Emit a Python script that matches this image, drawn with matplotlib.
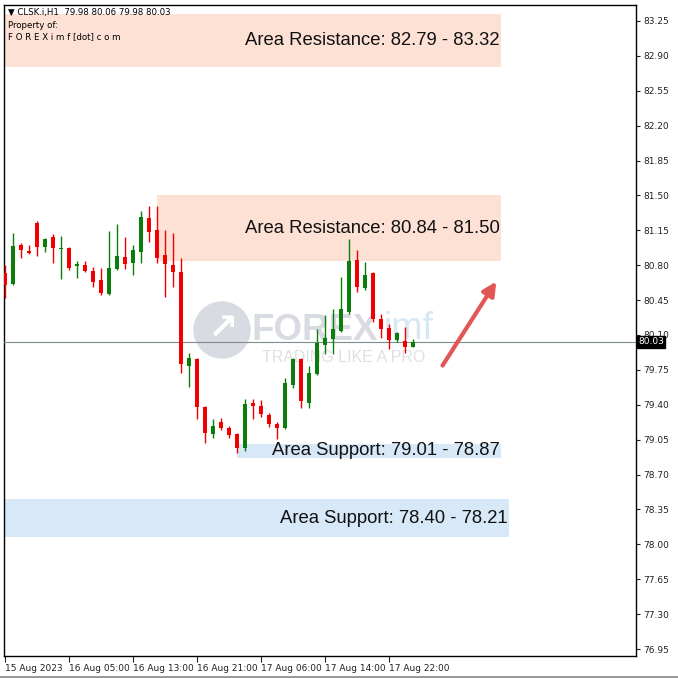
import matplotlib.pyplot as plt
import matplotlib.patches as mpatches
import numpy as np

# hourly candles, CLSK.i H1
opens = [80.72, 80.61, 81.00, 80.94, 81.22, 80.98, 81.08, 80.96, 80.97, 80.79,
         80.80, 80.74, 80.65, 80.51, 80.76, 80.88, 80.82, 80.93, 81.27, 81.15,
         80.90, 80.80, 80.73, 79.79, 79.86, 79.38, 79.11, 79.23, 79.17, 79.11,
         78.97, 79.42, 79.39, 79.30, 79.21, 79.17, 79.60, 79.86, 79.42, 79.71,
         80.00, 80.06, 80.14, 80.33, 80.85, 80.57, 80.72, 80.26, 80.17, 80.05,
         80.04, 79.98]
highs = [80.80, 81.12, 81.02, 81.00, 81.24, 81.07, 81.11, 81.09, 80.98, 80.84,
         80.84, 80.78, 80.77, 81.14, 81.21, 81.08, 81.00, 81.34, 81.39, 81.39,
         81.15, 81.12, 80.87, 79.92, 79.87, 79.39, 79.26, 79.27, 79.19, 79.12,
         79.46, 79.46, 79.45, 79.32, 79.23, 79.67, 79.87, 79.87, 79.79, 80.16,
         80.30, 80.36, 80.68, 81.06, 80.95, 80.83, 80.73, 80.31, 80.21, 80.13,
         80.18, 80.06]
lows = [80.47, 80.60, 80.87, 80.91, 80.89, 80.93, 80.82, 80.66, 80.75, 80.67,
        80.73, 80.58, 80.50, 80.50, 80.75, 80.76, 80.70, 80.82, 81.03, 80.82,
        80.48, 80.58, 79.72, 79.58, 79.26, 79.02, 79.07, 79.15, 79.07, 78.92,
        78.94, 79.26, 79.28, 79.18, 79.06, 79.16, 79.57, 79.37, 79.37, 79.70,
        79.91, 79.91, 80.13, 80.31, 80.53, 80.55, 80.23, 80.07, 79.96, 80.03,
        79.92, 79.98]
closes = [80.60, 80.99, 80.95, 80.92, 80.98, 81.06, 80.97, 80.97, 80.77, 80.81,
          80.74, 80.63, 80.52, 80.77, 80.89, 80.81, 80.95, 81.28, 81.13, 80.87,
          80.81, 80.73, 79.81, 79.87, 79.38, 79.12, 79.19, 79.17, 79.10, 78.97,
          79.41, 79.39, 79.31, 79.21, 79.17, 79.62, 79.86, 79.44, 79.72, 80.02,
          80.07, 80.16, 80.36, 80.84, 80.58, 80.70, 80.26, 80.16, 80.05, 80.12,
          79.98, 80.03]

time_labels = ["15 Aug 2023", "16 Aug 05:00", "16 Aug 13:00", "16 Aug 21:00",
               "17 Aug 06:00", "17 Aug 14:00", "17 Aug 22:00"]
time_label_pos = [0, 8, 16, 24, 32, 40, 48]

# zones
zone_lo = [82.79, 80.84, 78.87, 78.07]
zone_hi = [83.32, 81.50, 79.01, 78.45]
zone_x0 = [-0.2, 19.0, 29.0, -0.2]
zone_x1 = [62.0, 62.0, 62.0, 63.0]
zone_text = ["Area Resistance: 82.79 - 83.32", "Area Resistance: 80.84 - 81.50",
             "Area Support: 79.01 - 78.87", "Area Support: 78.40 - 78.21"]
zone_kind = ["res", "res", "sup", "sup"]

last_price = 80.03
y_ticks = [76.95, 77.30, 77.65, 78.00, 78.35, 78.70, 79.05, 79.40, 79.75, 80.10,
           80.45, 80.80, 81.15, 81.50, 81.85, 82.20, 82.55, 82.90, 83.25]

fig = plt.figure(figsize=(6.78, 6.78), dpi=100)
ax = fig.add_axes([4 / 678, 1 - 656 / 678, 632 / 678, 651 / 678])
ax.set_xlim(-0.125, 78.875)
ax.set_ylim(83.25 - 636 / 99.84, 83.25 + 16 / 99.84)

for lo, hi, x0, x1, txt, kind in zip(zone_lo, zone_hi, zone_x0, zone_x1, zone_text, zone_kind):
    col = "#fde1d5" if kind == "res" else "#d7e8f8"
    ax.add_patch(mpatches.Rectangle((x0, lo), x1 - x0, hi - lo, color=col, lw=0, zorder=1))
    ax.text(x1 - 0.2, (lo + hi) / 2, txt, ha="right", va="center",
            fontsize=13.3, family="Liberation Sans", color="#111111", zorder=5)

# watermark, behind the candles
tf = fig.transFigure
ax.add_patch(mpatches.Circle((222 / 678, 1 - 330 / 678), 28 / 678, transform=tf,
                             color="#d9dbe2", zorder=2, clip_on=False))
ax.text(222 / 678, 1 - 330 / 678, "\u2197", transform=tf, fontsize=26, color="white",
        ha="center", va="center", fontweight="bold", zorder=2)
ax.text(251 / 678, 1 - 330 / 678, "FOREX", transform=tf, fontsize=26.5, fontweight="bold",
        color="#d9dbe2", va="center", ha="left", family="Liberation Sans", zorder=2)
ax.text(383 / 678, 1 - 329 / 678, "imf", transform=tf, fontsize=27, color="#d8e7f4",
        va="center", ha="left", family="Liberation Sans", zorder=2)
ax.text(262 / 678, 1 - 357 / 678, "TRADING LIKE A PRO", transform=tf, fontsize=11.5,
        color="#e0e0e0", va="center", ha="left", family="Liberation Sans", zorder=2)

ax.axhline(last_price, color="#7f8c8d", lw=0.8, zorder=3)

x = np.arange(len(opens))
o = np.array(opens)
c = np.array(closes)
up = c >= o
cols = np.where(up, "#0a7d0a", "#f00000")
ax.vlines(x, lows, highs, colors=cols, lw=1, zorder=4)
body = np.maximum(np.abs(c - o), 0.015)
ax.bar(x, body, bottom=np.minimum(o, c), width=0.62, color=cols, zorder=4)

ax.annotate("", xy=(61.6, 80.66), xytext=(54.5, 79.77),
            arrowprops=dict(arrowstyle="-|>", color="#e25656", lw=3, mutation_scale=20),
            zorder=6)

ax.yaxis.tick_right()
ax.set_yticks(y_ticks)
ax.set_yticklabels(["%.2f" % v for v in y_ticks], fontsize=6.5, family="DejaVu Sans")
ax.tick_params(axis="y", length=3, width=0.8, pad=2, colors="#222222")
ax.set_xticks(time_label_pos)
ax.set_xticklabels(time_labels, fontsize=6.5, ha="left")
ax.tick_params(axis="x", length=4, width=0.8, pad=2, colors="#222222")
for spine in ax.spines.values():
    spine.set_color("#000000")
    spine.set_linewidth(1)

# price tag
ax.text(1.003, last_price, "%.2f" % last_price, transform=ax.get_yaxis_transform(),
        color="white", fontsize=6.5, va="center", ha="left", zorder=10,
        bbox=dict(boxstyle="square,pad=0.15", fc="black", ec="black"))

fig.text(8 / 678, 1 - 12 / 678, "\u25bc CLSK.i,H1  79.98 80.06 79.98 80.03", fontsize=6.2,
         va="center", ha="left")
fig.text(8 / 678, 1 - 25 / 678, "Property of:", fontsize=6.2, va="center", ha="left")
fig.text(8 / 678, 1 - 37 / 678, "F O R E X i m f [dot] c o m", fontsize=6.2,
         va="center", ha="left")

# window border at the bottom
fig.patches.append(mpatches.Rectangle((0, 0), 1, 2 / 678, transform=tf,
                                      color="#9a9a9a", lw=0))

fig.savefig("out.png", dpi=100)
